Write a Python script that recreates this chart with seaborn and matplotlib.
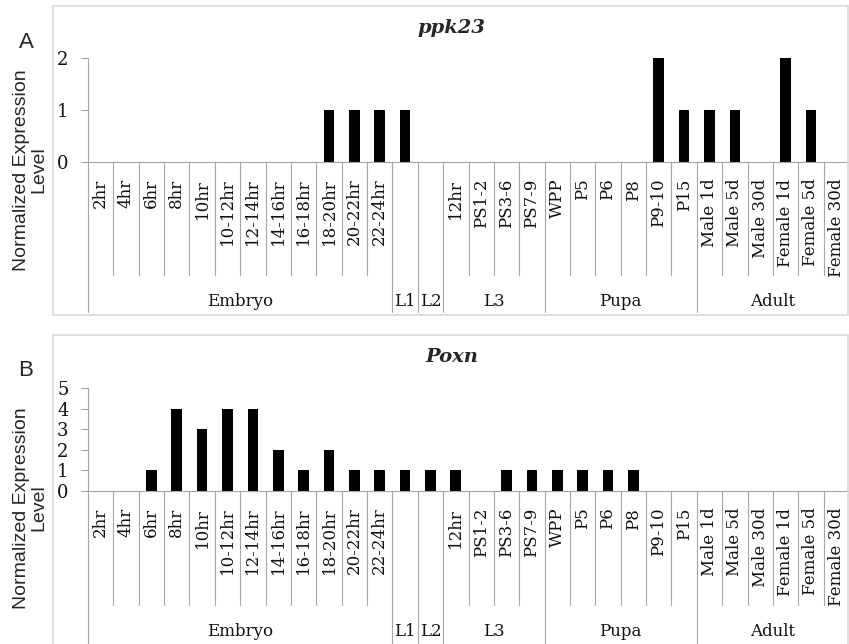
import numpy as np
import pandas as pd
import matplotlib
matplotlib.use("Agg")
import matplotlib.pyplot as plt
from matplotlib.patches import Rectangle
import seaborn as sns

# stage keys (unique) and the tick labels shown under each bar
stages = ['2hr', '4hr', '6hr', '8hr', '10hr', '10-12hr', '12-14hr', '14-16hr',
          '16-18hr', '18-20hr', '20-22hr', '22-24hr', 'L1', 'L2',
          '12hr', 'PS1-2', 'PS3-6', 'PS7-9',
          'WPP', 'P5', 'P6', 'P8', 'P9-10', 'P15',
          'Male 1d', 'Male 5d', 'Male 30d', 'Female 1d', 'Female 5d', 'Female 30d']
tick_labels = [s if s not in ('L1', 'L2') else '' for s in stages]

group_names = ['Embryo', 'L1', 'L2', 'L3', 'Pupa', 'Adult']
group_sizes = [12, 1, 1, 4, 6, 6]

ppk23 = [0, 0, 0, 0, 0, 0, 0, 0, 0, 1, 1, 1, 1, 0,
         0, 0, 0, 0,
         0, 0, 0, 0, 2, 1,
         1, 1, 0, 2, 1, 0]
poxn = [0, 0, 1, 4, 3, 4, 4, 2, 1, 2, 1, 1, 1, 1,
        1, 0, 1, 1,
        1, 1, 1, 1, 0, 0,
        0, 0, 0, 0, 0, 0]

W, H = 849, 644
SERIF = 'DejaVu Serif'
SANS = 'Liberation Sans'
GRID = '#a6a6a6'
INK = '#111111'

sns.set_theme(style='white')
plt.rcParams['font.family'] = [SERIF]

fig = plt.figure(figsize=(W / 100, H / 100), dpi=100)


def fx(px):
    return px / W


def fy(px):
    return 1 - px / H


def draw_panel(ax, values, ymax, title, letter, y_axis_px, y_top_px,
               box_top, box_bottom, short_px, long_px, group_px, ylab_px):
    df = pd.DataFrame({'stage': stages, 'level': values})
    sns.barplot(data=df, x='stage', y='level', order=stages, color='black',
                width=0.42, saturation=1, linewidth=0, ax=ax)
    ax.set_xlim(-0.5, len(stages) - 0.5)
    ax.set_ylim(0, ymax)
    ax.set_yticks(range(ymax + 1))
    ax.set_yticklabels([str(v) for v in range(ymax + 1)], fontsize=13,
                       family=SERIF, color=INK)
    ax.set_xticks(range(len(stages)))
    ax.set_xticklabels(tick_labels, rotation=90, fontsize=12, family=SERIF,
                       color=INK)
    ax.tick_params(axis='x', length=0, pad=12)
    ax.tick_params(axis='y', length=5, width=0.8, color=GRID, pad=9, left=True)
    ax.set_xlabel('')
    ax.set_ylabel('')
    sns.despine(ax=ax)
    ax.spines['left'].set_color(GRID)
    ax.spines['bottom'].set_color(GRID)
    ax.spines['left'].set_linewidth(0.8)
    ax.spines['bottom'].set_linewidth(0.8)
    ax.patch.set_alpha(0)

    ax_h = y_axis_px - y_top_px
    trans = ax.get_xaxis_transform()
    bounds = np.cumsum([0] + group_sizes) - 0.5
    for i in range(len(stages) + 1):
        xb = i - 0.5
        is_group = np.any(np.isclose(bounds, xb))
        length = long_px if is_group else short_px
        ax.plot([xb, xb], [0, -length / ax_h], transform=trans, color=GRID,
                lw=0.8, clip_on=False)
    for name, lo, hi in zip(group_names, bounds[:-1], bounds[1:]):
        ax.text((lo + hi) / 2, -group_px / ax_h, name, transform=trans,
                ha='center', va='center', fontsize=12, family=SERIF,
                color=INK)

    # chart border, title, panel letter, y label
    fig.add_artist(Rectangle((fx(53), fy(box_bottom)), fx(848) - fx(53),
                             fy(box_top) - fy(box_bottom), fill=False,
                             edgecolor='#d9d9d9', lw=1.2,
                             transform=fig.transFigure))
    fig.text(fx(452), fy(box_top + 22), title, ha='center', va='center',
             fontsize=14, family=SERIF, weight='bold', style='italic')
    fig.text(fx(26), fy(box_top + 36), letter, ha='center', va='center',
             fontsize=16, family=SANS)
    fig.text(fx(30), fy(ylab_px), 'Normalized Expression\nLevel',
             rotation=90, ha='center', va='center', fontsize=14,
             family=SANS, linespacing=1.0)


ax1 = fig.add_axes([fx(88), fy(162), fx(849) - fx(88), (162 - 58) / H])
draw_panel(ax1, ppk23, 2, 'ppk23', 'A', 162, 58, 6, 315, 113, 150, 140, 170)

ax2 = fig.add_axes([fx(88), fy(491), fx(849) - fx(88), (491 - 388) / H])
draw_panel(ax2, poxn, 5, 'Poxn', 'B', 491, 388, 335, 660, 114, 160, 141, 508)

fig.savefig('out.png', dpi=100)
